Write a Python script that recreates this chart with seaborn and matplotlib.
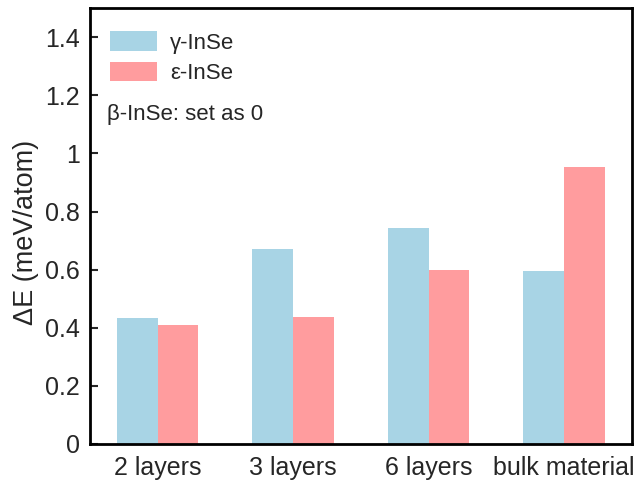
import matplotlib
matplotlib.use("Agg")
import matplotlib.pyplot as plt
import seaborn as sns
import pandas as pd
from matplotlib.patches import Patch

categories = ["2 layers", "3 layers", "6 layers", "bulk material"]
gamma_values = [0.432, 0.672, 0.742, 0.594]
epsilon_values = [0.410, 0.437, 0.600, 0.955]
series_names = ["γ-InSe", "ε-InSe"]
y_ticks = [0, 0.2, 0.4, 0.6, 0.8, 1.0, 1.2, 1.4]
y_tick_labels = ["0", "0.2", "0.4", "0.6", "0.8", "1", "1.2", "1.4"]

df = pd.DataFrame({
    "layers": categories * 2,
    "dE": gamma_values + epsilon_values,
    "phase": [series_names[0]] * 4 + [series_names[1]] * 4,
})

sns.set_style("white")
plt.rcParams["font.family"] = ["Liberation Sans", "DejaVu Sans"]

colors = {series_names[0]: "#a8d4e5", series_names[1]: "#ff9c9e"}

fig, ax = plt.subplots(figsize=(6.42, 4.83), dpi=100)
fig.subplots_adjust(left=0.140, right=0.984, top=0.983, bottom=0.081)

sns.barplot(data=df, x="layers", y="dE", hue="phase", palette=colors,
            width=0.6, saturation=1, linewidth=0, ax=ax, legend=False)

ax.set_xlim(-0.5, 3.5)
ax.set_ylim(0, 1.5)
ax.set_yticks(y_ticks)
ax.set_yticklabels(y_tick_labels)
ax.set_xlabel("")
ax.set_ylabel("ΔE (meV/atom)", fontsize=19.5)
ax.yaxis.set_label_coords(-0.094, 0.486)

ax.tick_params(axis="y", direction="in", length=6, width=1.5, labelsize=18,
               left=True, pad=7)
ax.tick_params(axis="x", bottom=False, labelsize=18, pad=5)

for spine in ax.spines.values():
    spine.set_visible(True)
    spine.set_color("black")
    spine.set_linewidth(2)

handles = [Patch(facecolor=colors[n], edgecolor="none", label=n) for n in series_names]
ax.legend(handles=handles, loc="upper left", bbox_to_anchor=(0.0, 0.993),
          frameon=False, fontsize=16, handlelength=2.1, handleheight=1.0,
          handletextpad=0.6, labelspacing=0.35, borderaxespad=0.5)

ax.text(0.032, 0.757, "β-InSe: set as 0", transform=ax.transAxes,
        fontsize=16, ha="left", va="center")

fig.savefig("out.png", dpi=100)
